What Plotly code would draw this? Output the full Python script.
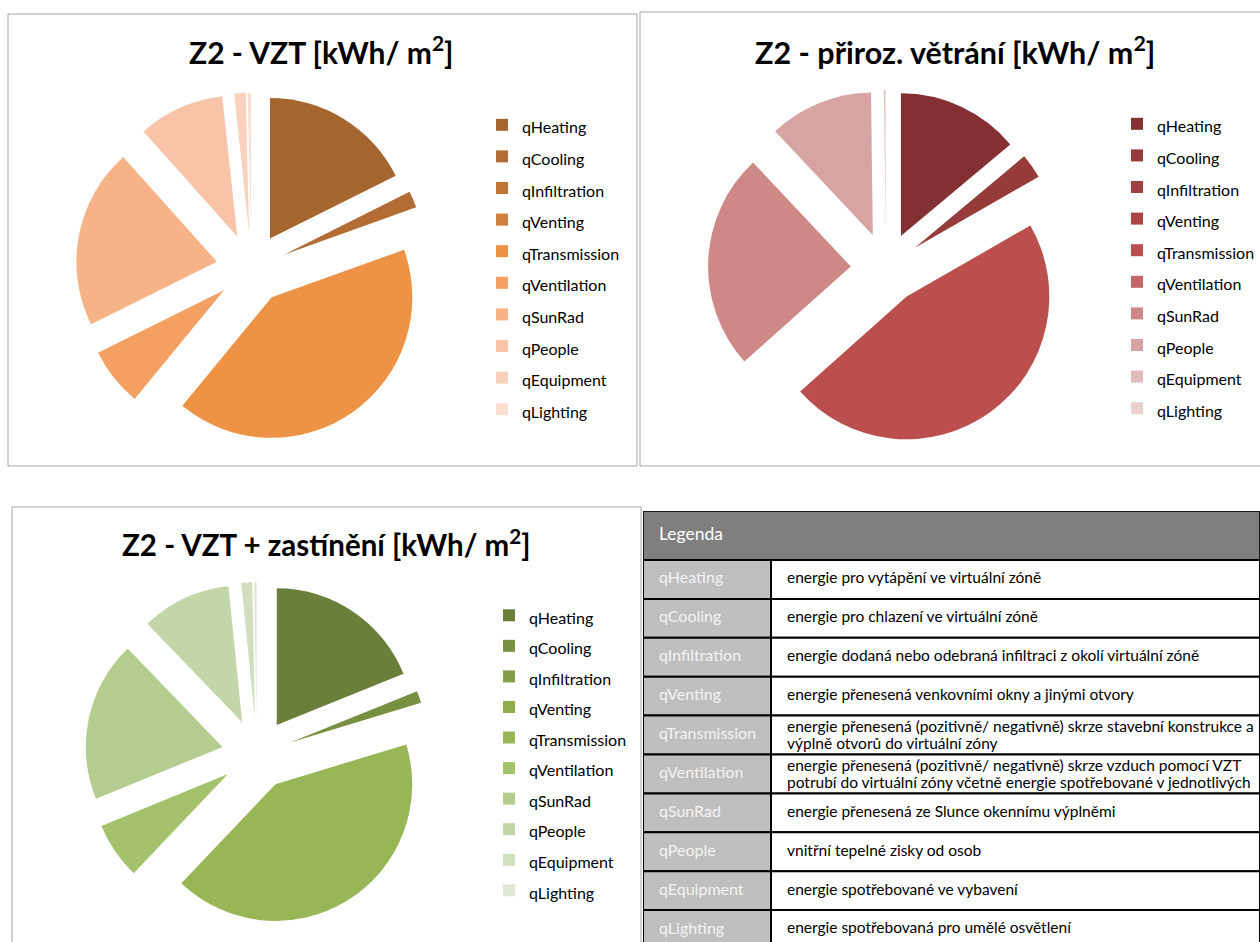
import plotly.graph_objects as go

# ---------------- data ----------------
categories = ["qHeating", "qCooling", "qInfiltration", "qVenting", "qTransmission",
              "qVentilation", "qSunRad", "qPeople", "qEquipment", "qLighting"]

# shares (kWh/m2 proportions)
vzt_values = [17.6, 1.9, 0.0, 0.0, 41.4, 6.7, 20.7, 9.9, 1.3, 0.4]
natural_values = [13.9, 2.8, 0.0, 0.0, 46.7, 0.0, 24.6, 11.8, 0.15, 0.05]
shading_values = [18.9, 1.4, 0.0, 0.0, 41.8, 6.7, 19.0, 10.6, 1.3, 0.3]

chart_titles = ["Z2 - VZT [kWh/ m<sup>2</sup>]",
                "Z2 - přiroz. větrání [kWh/ m<sup>2</sup>]",
                "Z2 - VZT + zastínění [kWh/ m<sup>2</sup>]"]

brown_colors = ["#a5652e", "#b36c33", "#c07537", "#cf7e3b", "#ee9245",
                "#f3a062", "#f6b388", "#f8c3a7", "#fbd1bd", "#fcdfd2"]
red_colors = ["#843033", "#963a3a", "#a23f3f", "#ae4545", "#bb4f4e",
              "#c66664", "#ce8886", "#d8a4a3", "#e1bbba", "#ebd0d0"]
green_colors = ["#6b7f3b", "#798f42", "#859c48", "#8fab4d", "#98b656",
                "#a4c16b", "#b5cc8f", "#c4d5a9", "#d2dfbf", "#dfe7d4"]

table_header = "Legenda"
descriptions = [
    ["energie pro vytápění ve virtuální zóně"],
    ["energie pro chlazení ve virtuální zóně"],
    ["energie dodaná nebo odebraná infiltraci z okolí virtuální zóně"],
    ["energie přenesená venkovními okny a jinými otvory"],
    ["energie přenesená (pozitivně/ negativně) skrze stavební konstrukce a",
     "výplně otvorů do virtuální zóny"],
    ["energie přenesená (pozitivně/ negativně) skrze vzduch pomocí VZT",
     "potrubí do virtuální zóny včetně energie spotřebované v jednotlivých"],
    ["energie přenesená ze Slunce okennímu výplněmi"],
    ["vnitřní tepelné zisky od osob"],
    ["energie spotřebované ve vybavení"],
    ["energie spotřebovaná pro umělé osvětlení"],
]

# ---------------- layout helpers ----------------
W, H = 1260, 942
FONT = "Lato"


def px_x(v):
    return v / W


def px_y(v):
    return 1 - v / H


def pie_domain(cx, cy, r, pull):
    half = r * (1 + pull)
    return dict(x=[px_x(cx - half), px_x(cx + half)],
                y=[px_y(cy + half), px_y(cy - half)])


# each legend gets its own (visually identical) label markup so pies don't merge entries
label_styles = ["font-size:16px;color:black", "font-size:16px;color:#000",
                "font-size:16px;color:#000000"]

fig = go.Figure()

pies = [
    (vzt_values, brown_colors, (251.5, 268.5, 140.6, 0.25), "legend"),
    (natural_values, red_colors, (886.0, 268.0, 142.7, 0.247), "legend2"),
    (shading_values, green_colors, (257.0, 754.2, 136.7, 0.258), "legend3"),
]
for k, (vals, cols, (cx, cy, r, pull), leg) in enumerate(pies):
    labels = [f"<span style='{label_styles[k]}'>{c}</span>" for c in categories]
    fig.add_trace(go.Pie(
        labels=labels, values=vals, sort=False, direction="clockwise",
        rotation=0, pull=[pull] * len(vals), textinfo="none",
        marker=dict(colors=cols, line=dict(width=0)),
        domain=pie_domain(cx, cy, r, pull), legend=leg,
        hoverinfo="label+value",
    ))

# ---------------- table on hidden axes ----------------
n_rows = len(categories)
col_bounds = [0, 128, 617]
header_top = -1.26

shapes = []
# chart frames
for (x0, y0, x1, y1) in [(8, 14, 637, 466), (640, 12, 1262, 466), (12, 507, 641, 950)]:
    shapes.append(dict(type="rect", xref="paper", yref="paper",
                       x0=px_x(x0), x1=px_x(x1), y0=px_y(y1), y1=px_y(y0),
                       line=dict(color="#a6a6a6", width=1), fillcolor="rgba(0,0,0,0)",
                       layer="below"))

shapes.append(dict(type="rect", xref="x", yref="y", x0=col_bounds[0], x1=col_bounds[2],
                   y0=header_top, y1=0, fillcolor="#7f7f7f",
                   line=dict(color="#1a1a1a", width=2), layer="below"))
for i in range(n_rows):
    shapes.append(dict(type="rect", xref="x", yref="y", x0=col_bounds[0], x1=col_bounds[1],
                       y0=i, y1=i + 1, fillcolor="#bfbfbf",
                       line=dict(color="black", width=2), layer="below"))
    shapes.append(dict(type="rect", xref="x", yref="y", x0=col_bounds[1], x1=col_bounds[2],
                       y0=i, y1=i + 1, fillcolor="white",
                       line=dict(color="black", width=2), layer="below"))

fig.add_trace(go.Scatter(
    x=[16], y=[header_top / 2], mode="text", text=[table_header],
    textposition="middle right", textfont=dict(family=FONT, size=17.5, color="white"),
    showlegend=False, hoverinfo="skip", xaxis="x", yaxis="y"))

fig.add_trace(go.Scatter(
    x=[16] * n_rows, y=[i + 0.5 for i in range(n_rows)], mode="text", text=categories,
    textposition="middle right", textfont=dict(family=FONT, size=16, color="#f4f4f4"),
    showlegend=False, hoverinfo="skip", xaxis="x", yaxis="y"))

desc_x, desc_y, desc_t = [], [], []
for i, lines in enumerate(descriptions):
    if len(lines) == 1:
        offs = [0.5]
    else:
        offs = [0.33, 0.76]
    for off, line in zip(offs, lines):
        desc_x.append(144)
        desc_y.append(i + off)
        desc_t.append(line)
fig.add_trace(go.Scatter(
    x=desc_x, y=desc_y, mode="text", text=desc_t,
    textposition="middle right", textfont=dict(family=FONT, size=15.5, color="black"),
    showlegend=False, hoverinfo="skip", xaxis="x", yaxis="y", cliponaxis=False))

# titles
annotations = []
for title, (cx, cy), fs in zip(chart_titles, [(321, 50), (955, 50), (326, 543)],
                               [30, 30.5, 29.5]):
    annotations.append(dict(text=f"<b>{title}</b>", x=px_x(cx), y=px_y(cy),
                            xref="paper", yref="paper", xanchor="center", yanchor="middle",
                            showarrow=False, font=dict(family=FONT, size=fs, color="black")))

legend_common = dict(xanchor="left", yanchor="top", bgcolor="rgba(0,0,0,0)",
                     traceorder="normal", itemclick=False, itemdoubleclick=False)
fig.update_layout(
    width=W, height=H,
    margin=dict(l=0, r=0, t=0, b=0, autoexpand=False),
    paper_bgcolor="white", plot_bgcolor="white",
    font=dict(family=FONT, color="black"),
    xaxis=dict(domain=[643 / W, 1], range=[0, 617], visible=False, fixedrange=True),
    yaxis=dict(domain=[0, px_y(511)], range=[(942 - 560) / 38.9, header_top],
               visible=False, fixedrange=True),
    legend=dict(x=px_x(482), y=px_y(104), font=dict(family=FONT, size=22, color="black"),
                **legend_common),
    legend2=dict(x=px_x(1117), y=px_y(103), font=dict(family=FONT, size=22, color="black"),
                 **legend_common),
    legend3=dict(x=px_x(489), y=px_y(595), font=dict(family=FONT, size=21.2, color="black"),
                 **legend_common),
    shapes=shapes,
    annotations=annotations,
)

fig.write_html("out.html", config={"displayModeBar": False},
               post_script="document.body.style.margin='0';")
